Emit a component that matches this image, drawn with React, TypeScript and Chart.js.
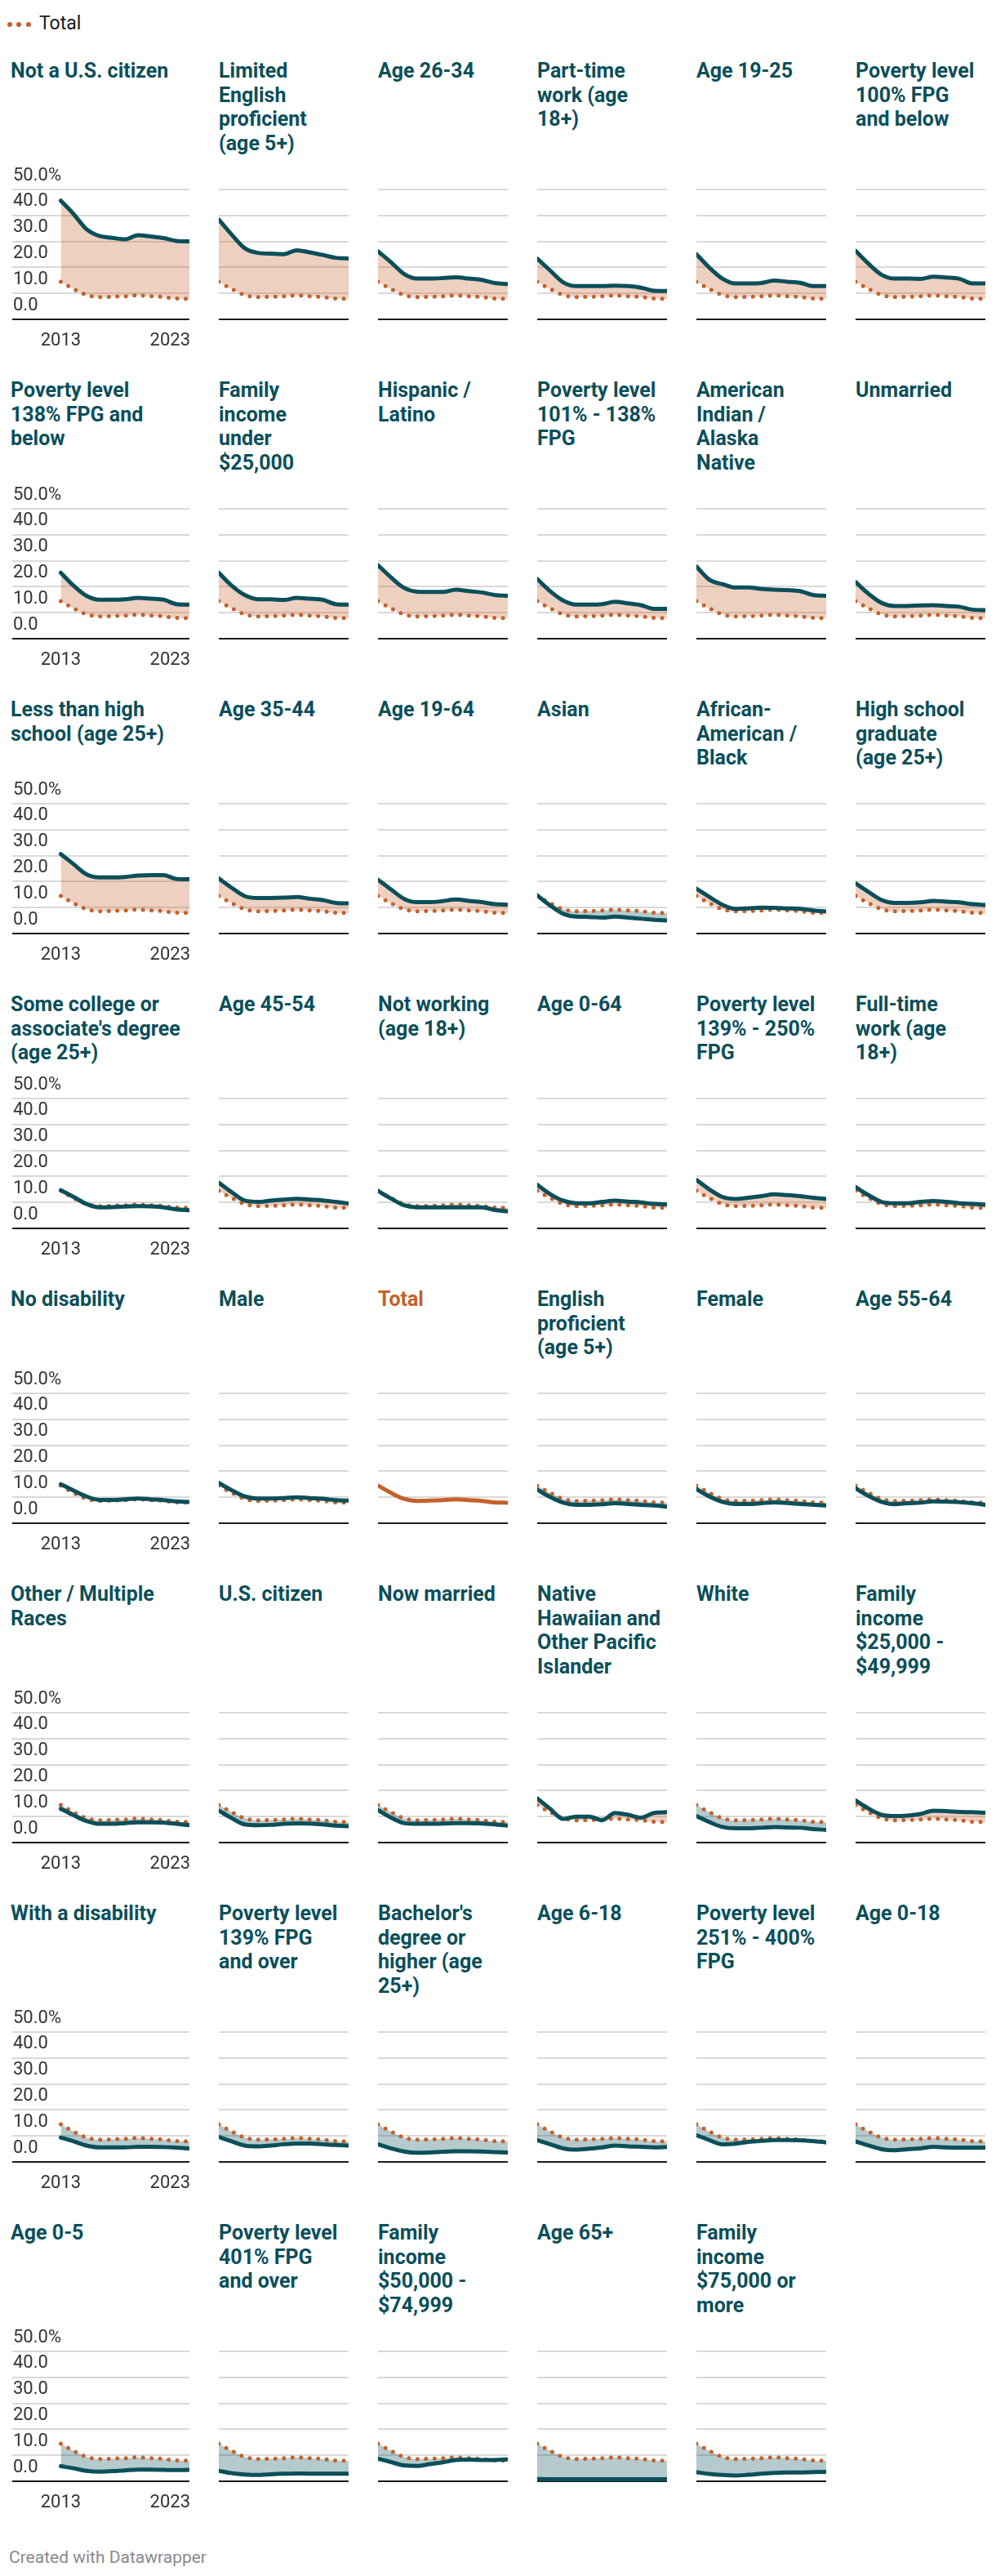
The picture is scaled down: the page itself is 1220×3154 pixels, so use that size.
import React, { useEffect, useRef } from 'react';
import { Chart, registerables } from 'chart.js';

Chart.register(...registerables);
Chart.defaults.font.family = 'Roboto, "Noto Sans", sans-serif';

// ---------- data ----------
const years = [2013, 2014, 2015, 2016, 2017, 2018, 2019, 2020, 2021, 2022, 2023];
const xTickLabels = ['2013', '2023'];
const yTicks = [0, 10, 20, 30, 40, 50];
const yTickLabels = ['0.0', '10.0', '20.0', '30.0', '40.0', '50.0%'];

const total = [14.5, 11.7, 9.4, 8.6, 8.7, 8.9, 9.2, 8.9, 8.6, 8.0, 7.9];

const notCitizen = [45.7, 40.5, 34.7, 32.1, 31.4, 30.8, 32.4, 31.9, 31.3, 30.2, 30.0];
const limitedEnglish = [38.4, 32.6, 27.4, 25.6, 25.3, 25.1, 26.6, 25.8, 24.8, 23.7, 23.4];
const age26to34 = [26.2, 22.0, 17.5, 15.7, 15.7, 15.9, 16.2, 15.7, 15.2, 14.0, 13.6];
const partTime = [23.4, 18.8, 14.3, 12.8, 12.8, 12.8, 13.0, 12.8, 12.2, 11.0, 10.9];
const age19to25 = [25.1, 19.9, 15.7, 13.8, 13.8, 14.0, 14.9, 14.5, 14.1, 12.8, 12.8];
const pov100 = [26.4, 21.4, 17.2, 15.7, 15.7, 15.6, 16.4, 16.1, 15.6, 13.8, 13.8];

const pov138 = [25.4, 20.4, 16.5, 15.0, 15.0, 15.2, 15.7, 15.4, 15.0, 13.3, 13.1];
const incUnder25k = [25.4, 20.4, 16.8, 15.2, 15.2, 14.9, 15.7, 15.4, 15.0, 13.3, 13.1];
const hispanic = [28.3, 23.6, 19.6, 18.1, 18.0, 18.0, 18.9, 18.3, 17.8, 16.8, 16.5];
const pov101to138 = [23.0, 18.3, 14.7, 13.1, 13.1, 13.3, 14.2, 13.6, 12.9, 11.5, 11.5];
const aian = [27.8, 22.7, 21.0, 19.7, 19.7, 19.2, 18.9, 18.7, 18.3, 16.8, 16.5];
const unmarried = [21.8, 17.3, 13.8, 12.6, 12.6, 12.8, 12.9, 12.6, 12.3, 11.2, 11.0];

const lessHS = [30.6, 26.7, 22.8, 21.6, 21.6, 21.8, 22.3, 22.5, 22.5, 21.0, 20.9];
const age35to44 = [21.2, 17.6, 14.4, 13.7, 13.7, 13.8, 14.1, 13.4, 12.9, 11.8, 11.6];
const age19to64 = [20.7, 17.0, 13.4, 12.1, 12.1, 12.5, 13.1, 12.6, 12.1, 11.3, 11.1];
const asian = [14.7, 10.8, 7.6, 6.5, 6.4, 6.1, 6.5, 6.1, 5.7, 5.3, 5.0];
const black = [17.3, 14.1, 11.1, 9.5, 9.7, 10.0, 9.9, 9.7, 9.5, 8.9, 8.5];
const hsGrad = [19.3, 16.0, 12.9, 11.8, 11.8, 12.0, 12.6, 12.3, 12.0, 11.3, 11.0];

const someCollege = [14.7, 12.1, 9.4, 8.1, 8.2, 8.4, 8.6, 8.5, 8.1, 7.3, 7.0];
const age45to54 = [17.6, 13.9, 10.7, 10.2, 10.7, 11.1, 11.4, 11.1, 10.8, 10.2, 9.6];
const notWorking = [14.4, 11.5, 8.9, 8.1, 8.1, 8.1, 8.1, 8.1, 8.1, 7.1, 6.5];
const age0to64 = [16.8, 13.2, 10.7, 9.7, 9.7, 10.2, 10.7, 10.3, 10.0, 9.4, 9.2];
const pov139to250 = [18.7, 15.0, 12.1, 11.3, 11.8, 12.4, 13.1, 12.8, 12.4, 11.8, 11.3];
const fullTime = [15.9, 12.8, 10.2, 9.7, 9.7, 10.2, 10.5, 10.2, 9.7, 9.4, 9.1];

const noDisability = [15.0, 12.6, 10.3, 9.0, 9.0, 9.2, 9.5, 9.2, 8.9, 8.4, 8.2];
const male = [15.5, 12.7, 10.3, 9.5, 9.5, 9.7, 10.0, 9.7, 9.4, 8.9, 8.7];
const englishProficient = [12.9, 10.1, 7.9, 7.1, 7.1, 7.3, 7.7, 7.4, 7.1, 6.8, 6.4];
const female = [13.1, 10.3, 8.2, 7.4, 7.4, 7.7, 8.0, 7.8, 7.4, 7.1, 6.8];
const age55to64 = [13.4, 10.5, 8.2, 7.3, 7.7, 7.9, 8.4, 8.3, 8.1, 7.7, 7.1];

const otherMultiple = [13.0, 10.5, 8.3, 7.2, 7.2, 7.5, 7.8, 7.8, 7.7, 7.2, 6.7];
const usCitizen = [12.3, 9.4, 7.0, 6.7, 6.8, 7.2, 7.4, 7.3, 7.0, 6.5, 6.3];
const nowMarried = [12.5, 9.6, 7.5, 7.2, 7.2, 7.3, 7.5, 7.5, 7.3, 7.0, 6.5];
const nhpi = [17.0, 13.0, 9.1, 10.0, 10.0, 8.6, 11.4, 10.7, 9.6, 11.4, 11.7];
const white = [10.2, 7.9, 6.0, 5.5, 5.5, 5.7, 6.0, 5.8, 5.7, 5.2, 4.9];
const inc25to50k = [16.2, 13.1, 10.7, 10.2, 10.4, 11.0, 12.3, 12.1, 11.8, 11.7, 11.5];

const withDisability = [9.4, 7.9, 6.3, 5.6, 5.6, 5.6, 5.8, 5.8, 5.7, 5.5, 5.2];
const pov139plus = [9.6, 7.9, 6.3, 6.0, 6.3, 6.8, 7.1, 7.1, 6.8, 6.5, 6.3];
const bachelors = [6.8, 5.2, 4.0, 3.5, 3.6, 3.9, 4.1, 4.1, 4.0, 3.8, 3.6];
const age6to18 = [8.4, 6.8, 5.2, 4.7, 5.1, 5.6, 6.3, 6.0, 5.8, 5.6, 5.7];
const pov251to400 = [10.3, 8.4, 6.8, 7.0, 7.7, 8.1, 8.4, 8.4, 8.3, 8.0, 7.5];
const age0to18 = [7.9, 6.3, 4.9, 4.5, 4.9, 5.2, 5.8, 5.6, 5.5, 5.5, 5.5];

const age0to5 = [5.8, 5.0, 4.0, 3.7, 3.9, 4.2, 4.5, 4.5, 4.4, 4.3, 4.4];
const pov401plus = [4.0, 3.1, 2.6, 2.4, 2.7, 2.9, 3.0, 2.9, 2.9, 2.9, 2.9];
const inc50to75k = [8.7, 7.4, 6.1, 5.9, 6.6, 7.3, 8.2, 8.3, 8.2, 8.2, 8.4];
const age65plus = [0.9, 0.8, 0.8, 0.8, 0.8, 0.8, 0.8, 0.8, 0.8, 0.8, 0.8];
const inc75kplus = [3.5, 2.8, 2.4, 2.2, 2.5, 2.9, 3.2, 3.4, 3.4, 3.5, 3.6];

type PanelSpec = { title: string; values: number[]; isTotal?: boolean };

const rows: PanelSpec[][] = [
  [
    { title: 'Not a U.S. citizen', values: notCitizen },
    { title: 'Limited\nEnglish\nproficient\n(age 5+)', values: limitedEnglish },
    { title: 'Age 26-34', values: age26to34 },
    { title: 'Part-time\nwork (age\n18+)', values: partTime },
    { title: 'Age 19-25', values: age19to25 },
    { title: 'Poverty level\n100% FPG\nand below', values: pov100 },
  ],
  [
    { title: 'Poverty level\n138% FPG and\nbelow', values: pov138 },
    { title: 'Family\nincome\nunder\n$25,000', values: incUnder25k },
    { title: 'Hispanic /\nLatino', values: hispanic },
    { title: 'Poverty level\n101% - 138%\nFPG', values: pov101to138 },
    { title: 'American\nIndian /\nAlaska\nNative', values: aian },
    { title: 'Unmarried', values: unmarried },
  ],
  [
    { title: 'Less than high\nschool (age 25+)', values: lessHS },
    { title: 'Age 35-44', values: age35to44 },
    { title: 'Age 19-64', values: age19to64 },
    { title: 'Asian', values: asian },
    { title: 'African-\nAmerican /\nBlack', values: black },
    { title: 'High school\ngraduate\n(age 25+)', values: hsGrad },
  ],
  [
    { title: "Some college or\nassociate's degree\n(age 25+)", values: someCollege },
    { title: 'Age 45-54', values: age45to54 },
    { title: 'Not working\n(age 18+)', values: notWorking },
    { title: 'Age 0-64', values: age0to64 },
    { title: 'Poverty level\n139% - 250%\nFPG', values: pov139to250 },
    { title: 'Full-time\nwork (age\n18+)', values: fullTime },
  ],
  [
    { title: 'No disability', values: noDisability },
    { title: 'Male', values: male },
    { title: 'Total', values: total, isTotal: true },
    { title: 'English\nproficient\n(age 5+)', values: englishProficient },
    { title: 'Female', values: female },
    { title: 'Age 55-64', values: age55to64 },
  ],
  [
    { title: 'Other / Multiple\nRaces', values: otherMultiple },
    { title: 'U.S. citizen', values: usCitizen },
    { title: 'Now married', values: nowMarried },
    { title: 'Native\nHawaiian and\nOther Pacific\nIslander', values: nhpi },
    { title: 'White', values: white },
    { title: 'Family\nincome\n$25,000 -\n$49,999', values: inc25to50k },
  ],
  [
    { title: 'With a disability', values: withDisability },
    { title: 'Poverty level\n139% FPG\nand over', values: pov139plus },
    { title: "Bachelor's\ndegree or\nhigher (age\n25+)", values: bachelors },
    { title: 'Age 6-18', values: age6to18 },
    { title: 'Poverty level\n251% - 400%\nFPG', values: pov251to400 },
    { title: 'Age 0-18', values: age0to18 },
  ],
  [
    { title: 'Age 0-5', values: age0to5 },
    { title: 'Poverty level\n401% FPG\nand over', values: pov401plus },
    { title: 'Family\nincome\n$50,000 -\n$74,999', values: inc50to75k },
    { title: 'Age 65+', values: age65plus },
    { title: 'Family\nincome\n$75,000 or\nmore', values: inc75kplus },
  ],
];

// ---------- styles / layout ----------
const TEAL = '#0b4f5a';
const ORANGE = '#c4612b';
const FILL_ABOVE = 'rgba(200, 100, 45, 0.3)';
const FILL_BELOW = 'rgba(11, 79, 90, 0.3)';
const GRID = '#d9d9d9';
const BASE = '#1c1c1c';
const TICK_COLOR = '#333333';

const PLOT_LEFTS = [73, 268, 463, 658, 853, 1048];
const PLOT_W = 159;
const COL1_GRID_LEFT = 13;
const CHART_H = 159;
const LH = 29.7;
const FIRST_TOP = 72;
const TITLE_TO_GRID = 41;
const ROW_GAP = 72;
const PAD_X = 4;
const PAD_TOP = 32;
const PAD_BOTTOM = 46;

const xLabelPlugin = {
  id: 'xLabels',
  afterDraw(chart: any) {
    const { ctx, scales } = chart;
    const x = scales.x;
    const y = scales.y;
    ctx.save();
    ctx.font = '22px Roboto, "Noto Sans", sans-serif';
    ctx.fillStyle = TICK_COLOR;
    ctx.textBaseline = 'middle';
    const yPix = y.getPixelForValue(0) + 26;
    ctx.textAlign = 'center';
    ctx.fillText(xTickLabels[0], x.getPixelForValue(years[0]), yPix);
    ctx.textAlign = 'right';
    ctx.fillText(xTickLabels[1], x.getPixelForValue(years[years.length - 1]) + 1, yPix);
    ctx.restore();
  },
};

function Panel({ spec, col, gridTop }: { spec: PanelSpec; col: number; gridTop: number }) {
  const ref = useRef<HTMLCanvasElement>(null);
  const areaLeft = col === 0 ? COL1_GRID_LEFT : PLOT_LEFTS[col];
  const areaRight = PLOT_LEFTS[col] + PLOT_W;
  const width = areaRight - areaLeft + PAD_X * 2;
  const height = PAD_TOP + CHART_H + PAD_BOTTOM;

  useEffect(() => {
    if (!ref.current) return;
    const span = years[years.length - 1] - years[0];
    const pxPerYear = PLOT_W / span;
    const xMin = years[0] - (PLOT_LEFTS[col] - areaLeft) / pxPerYear;
    const pts = (vals: number[]) => vals.map((v, i) => ({ x: years[i], y: v }));

    const datasets: any[] = spec.isTotal
      ? [
          {
            data: pts(spec.values),
            borderColor: ORANGE,
            borderWidth: 5,
            pointRadius: 0,
            cubicInterpolationMode: 'monotone',
            borderCapStyle: 'round',
            borderJoinStyle: 'round',
            fill: false,
          },
        ]
      : [
          {
            data: pts(spec.values),
            borderColor: TEAL,
            borderWidth: 5,
            pointRadius: 0,
            cubicInterpolationMode: 'monotone',
            borderCapStyle: 'round',
            borderJoinStyle: 'round',
            fill: { target: 1, above: FILL_ABOVE, below: FILL_BELOW },
          },
          {
            data: pts(total),
            borderColor: ORANGE,
            borderWidth: 5,
            borderDash: [0, 10.5],
            borderCapStyle: 'round',
            borderJoinStyle: 'round',
            pointRadius: 0,
            cubicInterpolationMode: 'monotone',
            fill: false,
          },
        ];

    const chart = new Chart(ref.current, {
      type: 'line',
      data: { datasets },
      options: {
        animation: false,
        responsive: false,
        devicePixelRatio: 1,
        layout: { padding: { left: PAD_X, right: PAD_X, top: PAD_TOP, bottom: PAD_BOTTOM } },
        plugins: {
          legend: { display: false },
          tooltip: { enabled: false },
          filler: { drawTime: 'beforeDatasetsDraw' },
        } as any,
        events: [],
        scales: {
          x: {
            type: 'linear',
            min: xMin,
            max: years[years.length - 1],
            display: false,
          },
          y: {
            type: 'linear',
            min: yTicks[0],
            max: yTicks[yTicks.length - 1],
            afterBuildTicks: (scale: any) => {
              scale.ticks = yTicks.map((v) => ({ value: v }));
            },
            border: { display: false },
            grid: {
              drawTicks: false,
              lineWidth: 2,
              color: (c: any) => (c.tick && c.tick.value === 0 ? BASE : GRID),
            },
            ticks: {
              display: col === 0,
              mirror: true,
              padding: 1,
              labelOffset: -17,
              color: TICK_COLOR,
              font: { size: 22 },
              callback: (v: any) => yTickLabels[yTicks.indexOf(Number(v))],
            },
          },
        },
      },
      plugins: col === 0 ? [xLabelPlugin] : [],
    });
    return () => chart.destroy();
  }, [spec, col, gridTop]);

  return (
    <canvas
      ref={ref}
      width={width}
      height={height}
      style={{ position: 'absolute', left: areaLeft - PAD_X, top: gridTop - PAD_TOP, width, height }}
    />
  );
}

export default function App() {
  useEffect(() => {
    document.body.style.margin = '0';
    document.body.style.background = '#ffffff';
  }, []);

  const layout: { top: number; gridTop: number }[] = [];
  let top = FIRST_TOP;
  rows.forEach((row) => {
    const lines = Math.max(...row.map((p) => p.title.split('\n').length));
    const gridTop = Math.round(top + lines * LH + TITLE_TO_GRID);
    layout.push({ top, gridTop });
    top = gridTop + CHART_H + ROW_GAP;
  });

  return (
    <div
      style={{
        position: 'relative',
        width: 1220,
        height: 3154,
        background: '#ffffff',
        fontFamily: 'Roboto, "Noto Sans", sans-serif',
        overflow: 'hidden',
      }}
    >
      {/* legend */}
      <div style={{ position: 'absolute', left: 0, top: 0 }}>
        {[11.7, 23.3, 34.5].map((cx, i) => (
          <div
            key={i}
            style={{
              position: 'absolute',
              left: cx - 3,
              top: 27,
              width: 6,
              height: 6,
              borderRadius: 3,
              background: ORANGE,
            }}
          />
        ))}
        <div
          style={{
            position: 'absolute',
            left: 48,
            top: 14,
            fontSize: 23,
            lineHeight: '30px',
            color: '#1a1a1a',
            whiteSpace: 'nowrap',
          }}
        >
          Total
        </div>
      </div>

      {rows.map((row, r) =>
        row.map((spec, c) => (
          <React.Fragment key={`${r}-${c}`}>
            <div
              style={{
                position: 'absolute',
                left: c === 0 ? 13 : PLOT_LEFTS[c],
                top: layout[r].top,
                fontSize: 25,
                fontWeight: 700,
                lineHeight: `${LH}px`,
                color: spec.isTotal ? ORANGE : TEAL,
                whiteSpace: 'pre',
              }}
            >
              {spec.title}
            </div>
            <Panel spec={spec} col={c} gridTop={layout[r].gridTop} />
          </React.Fragment>
        ))
      )}

      <div
        style={{
          position: 'absolute',
          left: 11,
          top: 3118,
          fontSize: 21,
          lineHeight: '26px',
          color: '#8a8a8a',
          whiteSpace: 'nowrap',
        }}
      >
        Created with Datawrapper
      </div>
    </div>
  );
}
